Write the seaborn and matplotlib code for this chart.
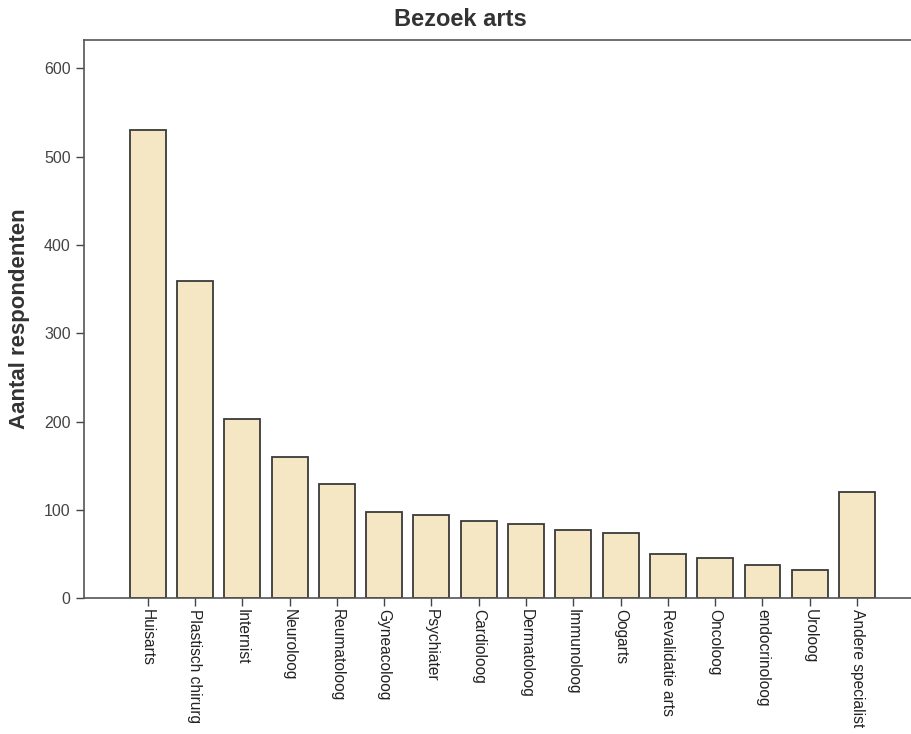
import pandas as pd
import matplotlib.pyplot as plt
import seaborn as sns

specialismen = ['Huisarts', 'Plastisch chirurg', 'Internist', 'Neuroloog', 'Reumatoloog',
                'Gyneacoloog', 'Psychiater', 'Cardioloog', 'Dermatoloog', 'Immunoloog',
                'Oogarts', 'Revalidatie arts', 'Oncoloog', 'endocrinoloog', 'Uroloog',
                'Andere specialist']
aantal = [530, 359, 203, 160, 129, 98, 94, 87, 84, 77, 74, 50, 46, 38, 32, 120]

data = pd.DataFrame({'arts': specialismen, 'aantal': aantal})

sns.set_style("white")
plt.rcParams['font.family'] = ['Liberation Sans', 'DejaVu Sans']

fig = plt.figure(figsize=(9.11, 7.34), dpi=100)
ax = fig.add_axes([0.092, 0.185, 0.908, 0.7605])

sns.barplot(data=data, x='arts', y='aantal', color='#F5E6C4', saturation=1,
            edgecolor='#3a3a3a', linewidth=1.3, width=0.76, ax=ax)

ax.set_xlim(-1.35, 16.14)
ax.set_ylim(0, 632)
ax.set_yticks([0, 100, 200, 300, 400, 500, 600])
ax.set_xticks(range(len(specialismen)))
ax.set_xticklabels(specialismen, rotation=270, fontsize=11.2, color='#222222')
ax.tick_params(axis='y', labelsize=11.5, labelcolor='#444444')
ax.tick_params(axis='both', direction='out', length=6, width=1, color='#444444',
               bottom=True, left=True)
ax.tick_params(axis='x', pad=2)

for side in ['left', 'top', 'bottom']:
    ax.spines[side].set_color('#555555')
    ax.spines[side].set_linewidth(1.2)
ax.spines['right'].set_visible(False)

ax.set_xlabel('')
ax.set_ylabel('Aantal respondenten', fontsize=16, fontweight='bold', color='#333333', labelpad=10)
fig.suptitle('Bezoek arts', x=0.505, y=0.974, va='center', fontsize=17,
             fontweight='bold', color='#333333')

fig.savefig('out.png', dpi=100)
